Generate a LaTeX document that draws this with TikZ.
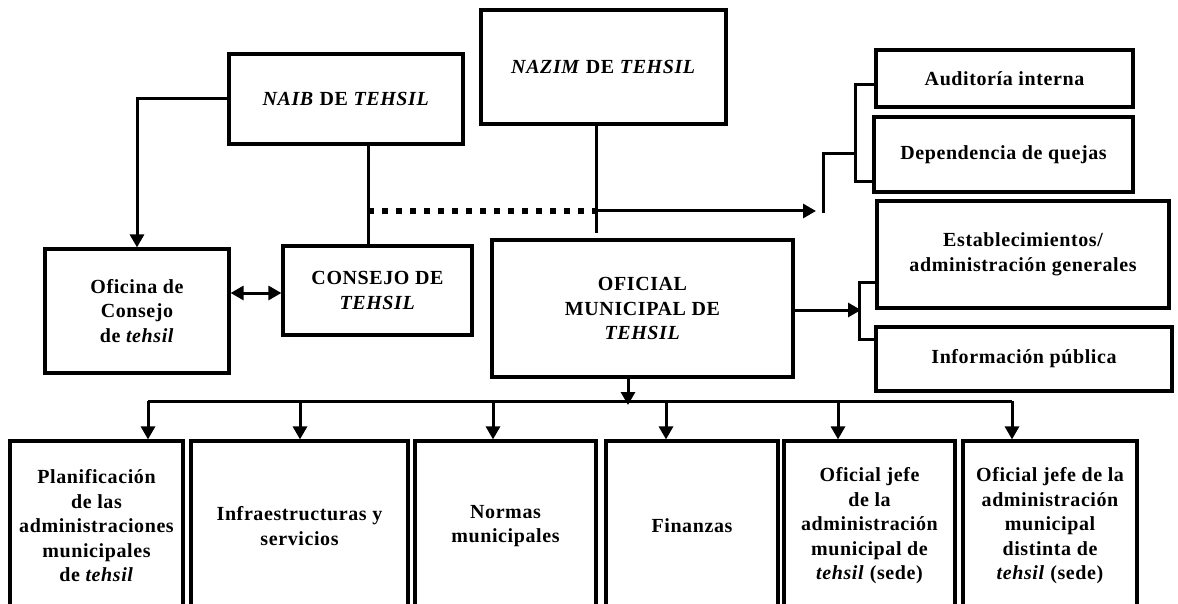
\documentclass[tikz,border=0pt]{standalone}
\usepackage{fontspec}
\setmainfont{Liberation Serif}[LetterSpace=3]
\usetikzlibrary{arrows.meta}

\begin{document}
\begin{tikzpicture}[x=1pt,y=-1pt,
    box/.style={draw,line width=3.2pt,inner sep=0pt,align=center,
      font=\bfseries\fontsize{20}{24.5}\selectfont},
    low/.style={box,minimum height=170},
    wire/.style={line width=3pt},
    arr/.style={wire,-{Triangle[width=14pt,length=13pt]}},
    arrs/.style={wire,{Triangle[width=14pt,length=13pt]}-{Triangle[width=14pt,length=13pt]}},
    dots/.style={line width=5.5pt,dash pattern=on 6pt off 8pt}]
  \useasboundingbox (0,0) rectangle (1178,604);
  \clip (0,0) rectangle (1178,604);
  \path
    (346,99) node[box,minimum width=234,minimum height=90](Naib) {\textit{NAIB} DE \textit{TEHSIL}}
    (603.5,67) node[box,minimum width=245,minimum height=114](Nazim) {\textit{NAZIM} DE \textit{TEHSIL}}
    (137,311) node[box,minimum width=184,minimum height=124](Ofc) {Oficina de\\Consejo\\de \textit{tehsil}}
    (377.5,290.5) node[box,minimum width=189,minimum height=89](Cons) {CONSEJO DE\\\textit{TEHSIL}}
    (642.5,308.5) node[box,minimum width=301,minimum height=137](Ofm) {OFICIAL\\MUNICIPAL DE\\\textit{TEHSIL}}
    (1004.5,78.5) node[box,minimum width=257,minimum height=57](Aud) {Auditoría interna}
    (1003.5,154.5) node[box,minimum width=259,minimum height=75](Dep) {Dependencia de quejas}
    (1023,254.5) node[box,minimum width=292,minimum height=107](Est) {Establecimientos/\\administración generales}
    (1024,359) node[box,minimum width=296,minimum height=64](Inf) {Información pública};
  \path
    (96.5,526) node[low,minimum width=173](Plan) {Planificación\\de las\\administraciones\\municipales\\de \textit{tehsil}}
    (299.5,526) node[low,minimum width=217](Infra) {Infraestructuras y\\servicios}
    (505.5,526) node[low,minimum width=181](Norm) {Normas\\municipales}
    (692,526) node[low,minimum width=172](Fin) {Finanzas}
    (869.5,526) node[low,minimum width=171](Jefe) {Oficial jefe\\de la\\administración\\municipal de\\\textit{tehsil} (sede)}
    (1050,526) node[low,minimum width=174](JefeD) {Oficial jefe de la\\administración\\municipal\\distinta de\\\textit{tehsil} (sede)};

  \coordinate (k1) at (368,211);
  \coordinate (k2) at (596,211);
  \coordinate (k3) at (596,233);
  \coordinate (k4) at (816,211);
  \coordinate (k5) at (823,213);
  \coordinate (t1) at (855,154);
  \coordinate (b1) at (855,85);
  \coordinate (b2) at (855,182);
  \coordinate (e0) at (861,310);
  \coordinate (e1) at (859,282);
  \coordinate (e2) at (859,339);
  \coordinate (c0) at (256,293);
  \coordinate (bus) at (628,401);
  \foreach \x [count=\i] in {148,300,493,666,838,1012}
    \coordinate (d\i) at (\x,401);

  \draw[arr] (Naib.west) -| (Ofc.north);
  \draw[wire] (k1 |- Naib.south) -- (k1 |- Cons.north);
  \draw[arrs] (Ofc.east |- c0) -- (Cons.west |- c0);
  \draw[wire] (k2 |- Nazim.south) -- (k3);
  \draw[dots] (k1) -- (k2);
  \draw[arr] (k2) -- (k4);
  \draw[wire] (k5) |- (t1);
  \draw[wire] (Aud.west |- b1) -- (b1) -- (b2) -- (Dep.west |- b2);
  \draw[arr] (Ofm.east |- e0) -- (e0);
  \draw[wire] (Est.west |- e1) -- (e1) -- (e2) -- (Inf.west |- e2);
  \draw[arr] (Ofm.south -| bus) -- ([yshift=-4pt]bus);
  \draw[wire] (d1) -- (d6);
  \foreach \i/\n in {1/Plan,2/Infra,3/Norm,4/Fin,5/Jefe,6/JefeD}
    \draw[arr] (d\i) -- (d\i |- \n.north);
\end{tikzpicture}
\end{document}
